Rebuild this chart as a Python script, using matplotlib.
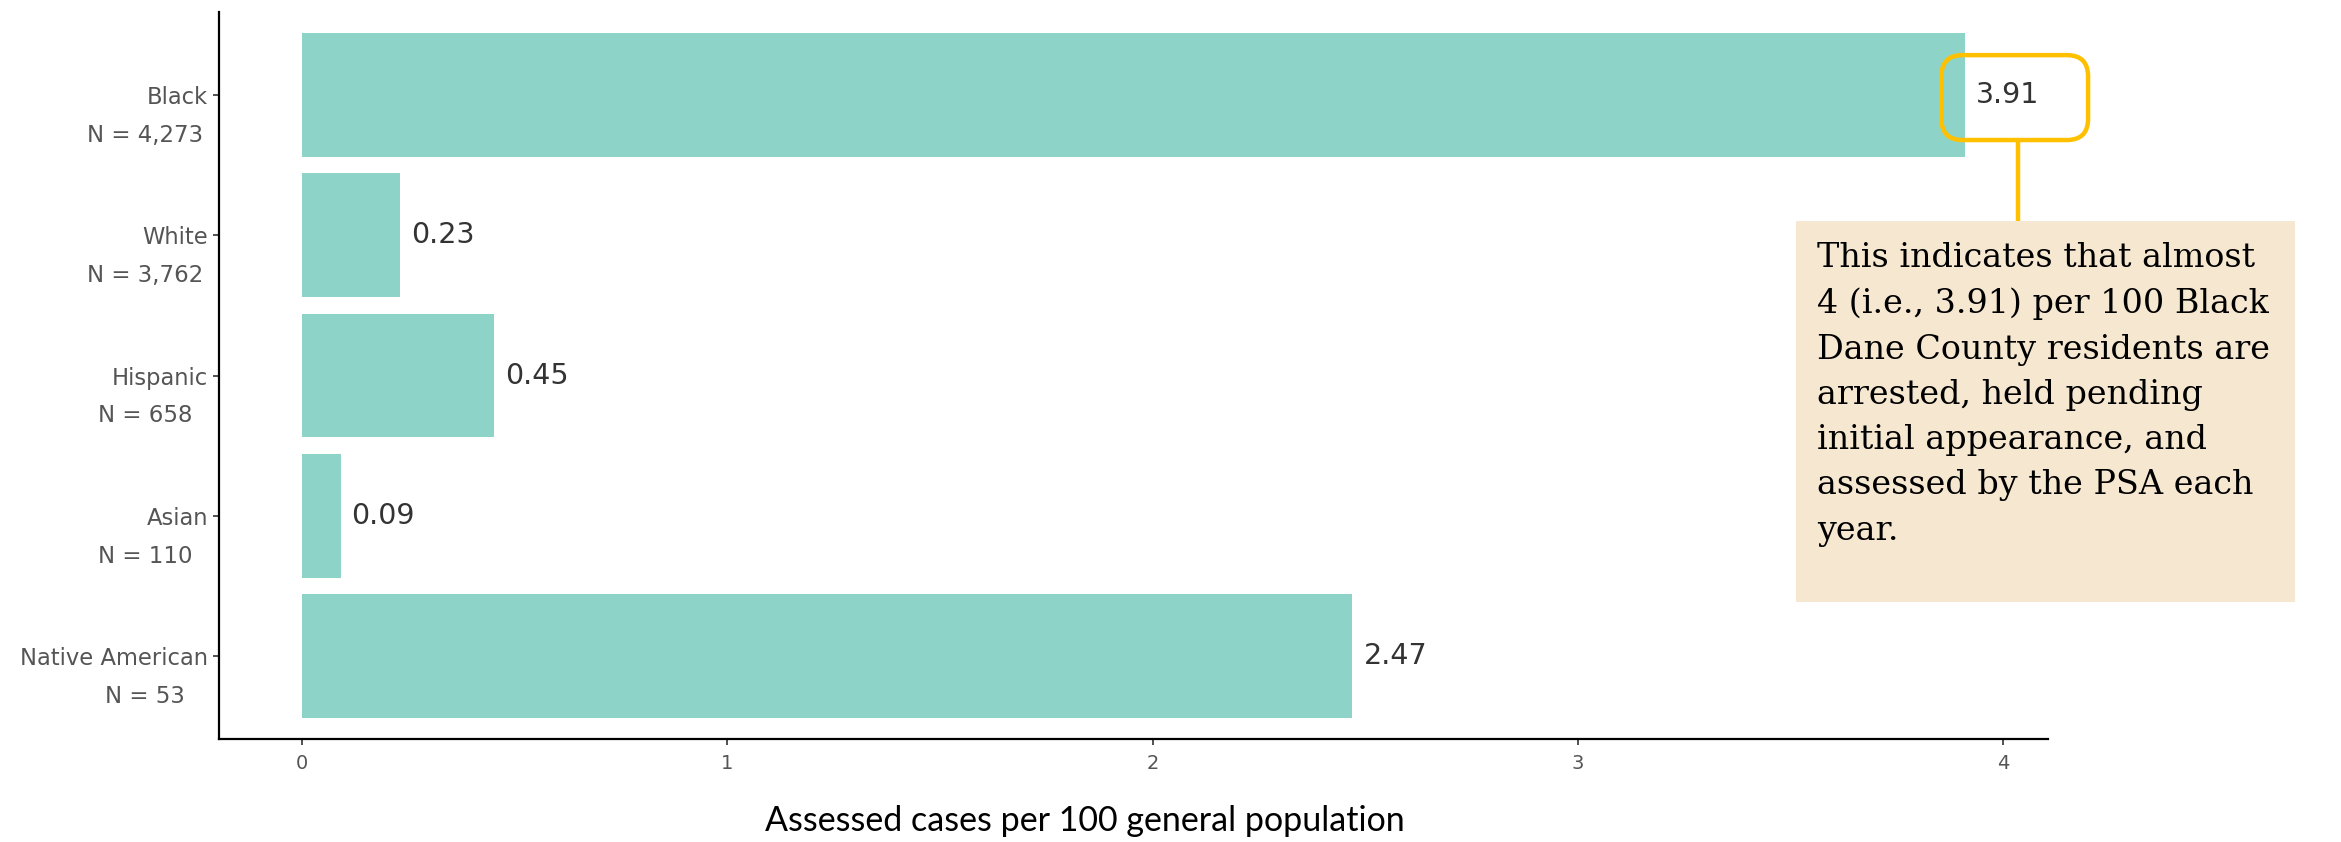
import matplotlib.pyplot as plt
from matplotlib.patches import FancyBboxPatch, Rectangle
from matplotlib.transforms import blended_transform_factory

# rates per 100 residents, top row first
groups = ['Black', 'White', 'Hispanic', 'Asian', 'Native American']
counts = ['4,273', '3,762', '658', '110', '53']
rates = [3.91, 0.23, 0.45, 0.09, 2.47]
xticks = [0, 1, 2, 3, 4]

note = ('This indicates that almost\n'
        '4 (i.e., 3.91) per 100 Black\n'
        'Dane County residents are\n'
        'arrested, held pending\n'
        'initial appearance, and\n'
        'assessed by the PSA each\n'
        'year.')

bar_color = '#8DD3C7'
gold = '#FFC000'

fig = plt.figure(figsize=(23.41, 8.42), dpi=100)
ax = fig.add_axes([0.0936, 0.1223, 0.7812, 0.8634])

ypos = list(range(len(groups), 0, -1))
ax.barh(ypos, rates, height=0.88, color=bar_color)

for y, r in zip(ypos, rates):
    ax.annotate(f'{r:.2f}', (r, y), xytext=(8, 0), textcoords='offset points',
                ha='left', va='center', fontsize=20.5, color='#333333')

ax.set_xlim(-0.1955, max(rates) + 0.1955)
ax.set_ylim(0.41, len(groups) + 0.59)
ax.set_xticks(xticks)
ax.set_yticks(ypos)
ax.set_yticklabels(groups)
ax.tick_params(axis='y', length=4, width=1.2, pad=4, labelsize=16.3,
               color='#333333', labelcolor='#555555')
ax.tick_params(axis='x', length=4, width=1.2, pad=7, labelsize=14,
               color='#333333', labelcolor='#555555')
for side in ['top', 'right']:
    ax.spines[side].set_visible(False)
for side in ['left', 'bottom']:
    ax.spines[side].set_linewidth(1.6)

# sample size under each group name
trans = blended_transform_factory(ax.transAxes, ax.transData)
for y, n in zip(ypos, counts):
    ax.text(-0.0405, y - 0.287, f'N = {n}', transform=trans, ha='center',
            va='center', fontsize=16.5, color='#555555', clip_on=False)

ax.text(0.4736, -0.113, 'Assessed cases per 100 general population',
        transform=ax.transAxes, ha='center', va='center',
        fontsize=24.5, family='Lato', color='black')

# callout around the Black value
ax.add_patch(FancyBboxPatch((3.855, 4.678), 0.345, 0.605,
                            boxstyle='round,pad=0,rounding_size=0.05',
                            transform=ax.transData, fill=False,
                            edgecolor=gold, linewidth=3.2, clip_on=False,
                            mutation_aspect=1 / 0.33))
ax.plot([4.035, 4.035], [4.678, 4.10], color=gold, linewidth=3.2,
        clip_on=False, solid_capstyle='butt')

fig.patches.append(Rectangle((0.7672, 0.2850), 0.2132, 0.4525,
                             transform=fig.transFigure, facecolor='#F6E7D0',
                             edgecolor='none', zorder=3))
fig.text(0.7762, 0.7125, note, ha='left', va='top', fontsize=24,
         family='DejaVu Serif', color='black', linespacing=1.53, zorder=4)

fig.savefig('out.png', dpi=100)
